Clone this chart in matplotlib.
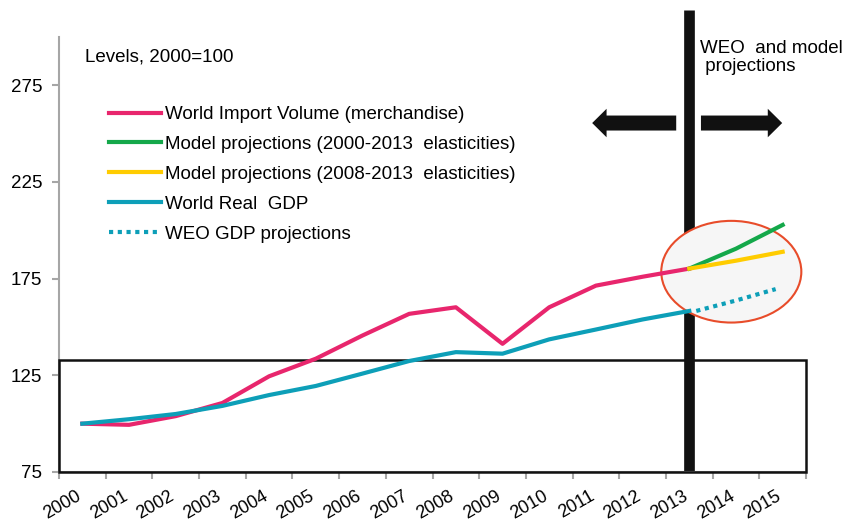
import matplotlib.pyplot as plt
from matplotlib.patches import Ellipse, Rectangle

plt.rcParams['font.family'] = ['Liberation Sans', 'DejaVu Sans']

# dados (níveis, 2000=100)
years = [str(y) for y in range(2000, 2016)]
imports = [100, 99.4, 103.9, 110.7, 124.5, 133.6, 145.6, 156.8, 160.2, 141.3,
           160.2, 171.4, 176, 180.2]
gdp = [100, 102.3, 105, 109.2, 114.8, 119.5, 125.9, 132.4, 137, 136.2,
       143.6, 148.7, 153.9, 158.3]
proj_2000_2013 = [180.2, 190.5, 202.8]
proj_2008_2013 = [180.2, 184.3, 188.9]
weo_gdp = [158.3, 163.7, 169.6]

c_pink = '#e8266d'
c_green = '#14a84a'
c_yellow = '#ffcc00'
c_blue = '#0d9fb8'

fs = 13.5

fig = plt.figure(figsize=(8.44, 5.21), dpi=100)
ax = fig.add_axes([59 / 844, 49 / 521, 747 / 844, 435 / 521])

x_hist = range(len(imports))
x_proj = range(len(imports) - 1, len(years))

# elipse de destaque
ax.add_patch(Ellipse((13.9, 178.6), 3.0, 52.6, facecolor='#f6f6f6',
                     edgecolor='#e84c2a', lw=1.5, zorder=3))

# barra vertical preta em 2013
ax.plot([13, 13], [75, 314], color='#111111', lw=7.7, solid_capstyle='butt',
        clip_on=False, zorder=2)

# retângulo na parte de baixo
ax.add_patch(Rectangle((-0.5, 75), 16, 57.7, fill=False, edgecolor='#111111',
                       lw=1.8, zorder=3, clip_on=False))

l1, = ax.plot(x_hist, imports, color=c_pink, lw=3, zorder=4,
              label='World Import Volume (merchandise)')
l2, = ax.plot(x_proj, proj_2000_2013, color=c_green, lw=3, zorder=4,
              label='Model projections (2000-2013  elasticities)')
l3, = ax.plot(x_proj, proj_2008_2013, color=c_yellow, lw=3, zorder=5,
              label='Model projections (2008-2013  elasticities)')
l4, = ax.plot(x_hist, gdp, color=c_blue, lw=3, zorder=4,
              label='World Real  GDP')
l5, = ax.plot([13.15, 14, 14.85], weo_gdp, color=c_blue, lw=3, zorder=4,
              linestyle=(0, (1, 1.1)), label='WEO GDP projections')

# setas
arrow_kw = dict(arrowstyle='simple,head_width=0.95,head_length=0.48,tail_width=0.5',
                mutation_scale=21.6, color='#111111', lw=0, shrinkA=0, shrinkB=0)
ax.annotate('', xy=(10.92, 255.5), xytext=(12.72, 255.5), arrowprops=arrow_kw)
ax.annotate('', xy=(14.99, 255.5), xytext=(13.25, 255.5), arrowprops=arrow_kw)

ax.text(13.22, 298.4, 'WEO  and model\n projections', fontsize=fs, va='top',
        ha='left', linespacing=1.05, zorder=6)
fig.text(85 / 844, 1 - 61 / 521, 'Levels, 2000=100', fontsize=fs,
         va='baseline')

ax.legend(handles=[l1, l2, l3, l4, l5], loc='upper left',
          bbox_to_anchor=(109 / 844, 1 - 106 / 521),
          bbox_transform=fig.transFigure, frameon=False, fontsize=fs,
          handlelength=2.77, handletextpad=0.22, borderpad=0,
          borderaxespad=0, labelspacing=0.68)

ax.set_xlim(-0.5, 15.5)
ax.set_ylim(75, 300)
ax.set_yticks([75, 125, 175, 225, 275])
ax.set_xticks([i - 0.5 for i in range(len(years) + 1)])
ax.set_xticklabels([])
# etiquetas dos anos um pouco à esquerda do centro da categoria
ax.set_xticks([i - 0.15 for i in range(len(years))], minor=True)
ax.set_xticklabels(years, minor=True, rotation=30, ha='right', va='top',
                   rotation_mode='anchor', fontsize=13)
ax.tick_params(axis='x', which='minor', length=0, pad=11)
ax.tick_params(axis='x', which='major', length=5, color='#a6a6a6', width=1.5)
ax.tick_params(axis='y', length=5, color='#a6a6a6', width=1.5, labelsize=fs,
               pad=7)

for s in ['top', 'right']:
    ax.spines[s].set_visible(False)
ax.spines['left'].set_color('#a6a6a6')
ax.spines['left'].set_linewidth(1.5)
ax.spines['bottom'].set_color('#a6a6a6')
ax.spines['bottom'].set_linewidth(1.5)

fig.savefig('out.png', dpi=100)
